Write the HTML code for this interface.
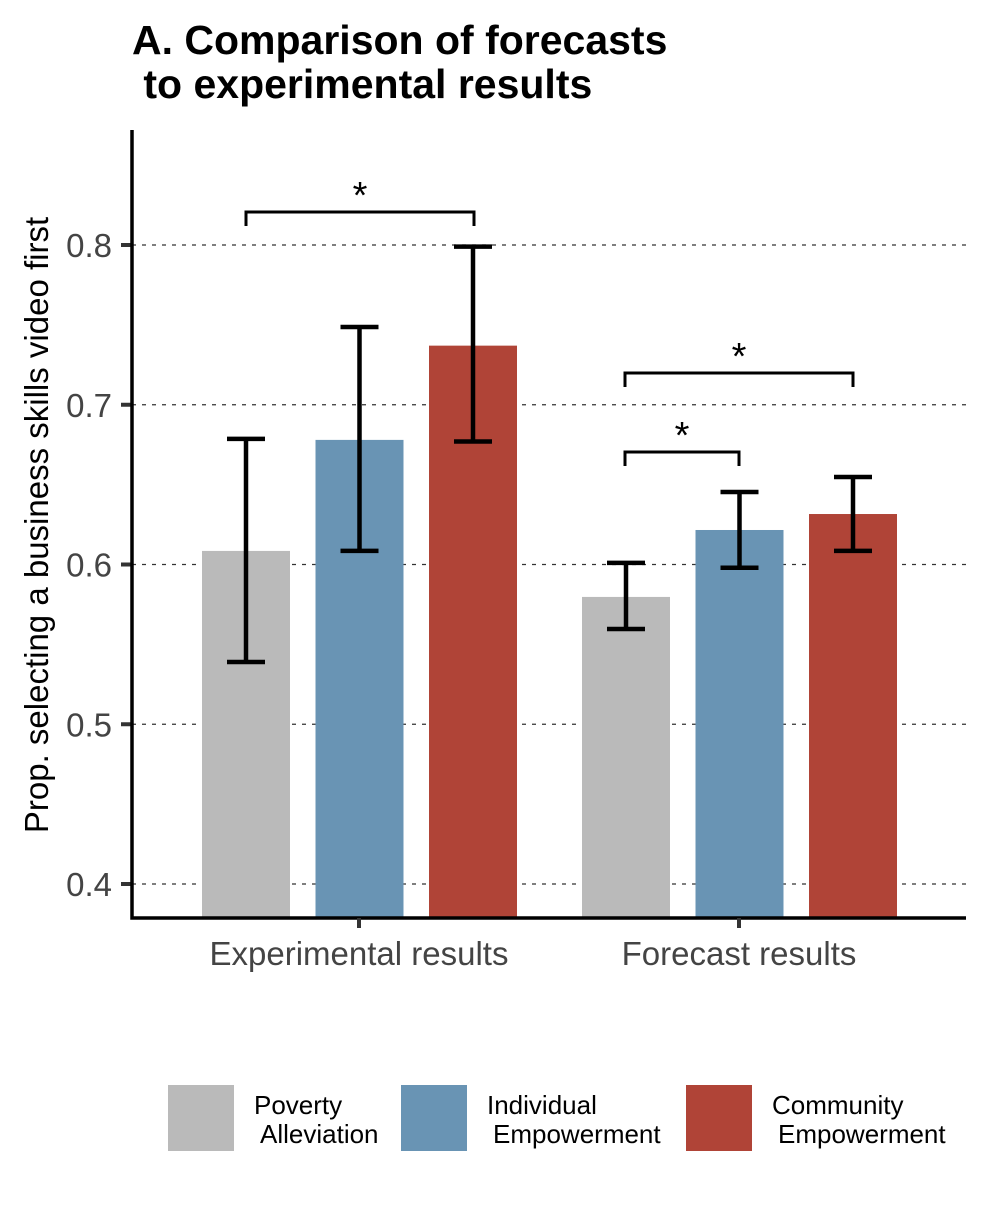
<!DOCTYPE html>
<html><head><meta charset="utf-8"><style>
body{margin:0;background:#fff;font-family:"Liberation Sans",sans-serif}
</style></head><body>
<svg width="990" height="1200" xmlns="http://www.w3.org/2000/svg">
<text x="132" y="54" font-size="41" font-weight="bold">A. Comparison of forecasts</text>
<text x="132" y="98" font-size="41" font-weight="bold" xml:space="preserve"> to experimental results</text>
<g id="grid"></g><g id="bars"></g><g id="err"></g><g id="axes"></g><g id="sig"></g>
<text transform="translate(48,525) rotate(-90)" text-anchor="middle" font-size="33">Prop. selecting a business skills video first</text>
<g>
<rect x="168" y="1085" width="66" height="66" fill="#bababa"/>
<text x="254" y="1114" font-size="26">Poverty</text>
<text x="260" y="1143" font-size="26">Alleviation</text>
<rect x="401" y="1085" width="66" height="66" fill="#6994b4"/>
<text x="487" y="1114" font-size="26">Individual</text>
<text x="493" y="1143" font-size="26">Empowerment</text>
<rect x="686" y="1085" width="66" height="66" fill="#b04437"/>
<text x="772" y="1114" font-size="26">Community</text>
<text x="778" y="1143" font-size="26">Empowerment</text>
</g>
</svg>
<script>
const groups=["Experimental results","Forecast results"];
const series=["Poverty Alleviation","Individual Empowerment","Community Empowerment"];
const values=[[0.6085,0.678,0.737],[0.5797,0.6216,0.6316]];
const lower=[[0.539,0.6085,0.677],[0.5596,0.598,0.6085]];
const upper=[[0.6786,0.7487,0.799],[0.601,0.6454,0.6548]];
const yTicks=[0.4,0.5,0.6,0.7,0.8];
const colors=["#bababa","#6994b4","#b04437"];
const NS="http://www.w3.org/2000/svg";
const y=v=>884-(v-0.4)*1597.5;
const gx=[359,739];
const barX=(g,s)=>gx[g]-157+s*113.5;
function mk(p,t,a){const e=document.createElementNS(NS,t);for(const k in a)e.setAttribute(k,a[k]);document.getElementById(p).appendChild(e);return e;}
yTicks.forEach(t=>{
 const l=mk("grid","line",{x1:132,x2:970,y1:y(t),y2:y(t),stroke:"#333","stroke-width":1.2,"stroke-dasharray":"4,6"});
 
 
 const k=mk("axes","line",{x1:121,x2:132,y1:y(t),y2:y(t),stroke:"#333","stroke-width":4});
 
 
 const tx=mk("axes","text",{x:112,y:y(t)+12,"text-anchor":"end","font-size":33,fill:"#444"});
 tx.textContent=t.toFixed(1);
 
 
});
values.forEach((row,g)=>row.forEach((v,s)=>{
 const x=barX(g,s);
 const r=mk("bars","rect",{x:x,y:y(v),width:88,height:918-y(v),fill:colors[s]});
 
 
 const cx=x+44;
 const e=mk("err","path",{d:`M${cx-19},${y(upper[g][s])}H${cx+19}M${cx},${y(upper[g][s])}V${y(lower[g][s])}M${cx-19},${y(lower[g][s])}H${cx+19}`,stroke:"#000","stroke-width":4.5,fill:"none"});
 
 
}));
const ax=mk("axes","path",{d:"M132,130V918H966",stroke:"#000","stroke-width":3.5,fill:"none"});


groups.forEach((g,i)=>{
 const k=mk("axes","line",{x1:gx[i],x2:gx[i],y1:918,y2:928,stroke:"#333","stroke-width":4});
 
 
 const t=mk("axes","text",{x:gx[i],y:965,"text-anchor":"middle","font-size":33,fill:"#444"});
 t.textContent=g;
 
 
});
[[246,474,212],[625,853,373],[625,739,452]].forEach(b=>{
 const p=mk("sig","path",{d:`M${b[0]},${b[2]+14}V${b[2]}H${b[1]}V${b[2]+14}`,stroke:"#000","stroke-width":3,fill:"none"});
 
 
 const s=mk("sig","text",{x:(b[0]+b[1])/2,y:b[2]-4,"text-anchor":"middle","font-size":38});
 s.textContent="*";
 
 
});
</script>
</body></html>
